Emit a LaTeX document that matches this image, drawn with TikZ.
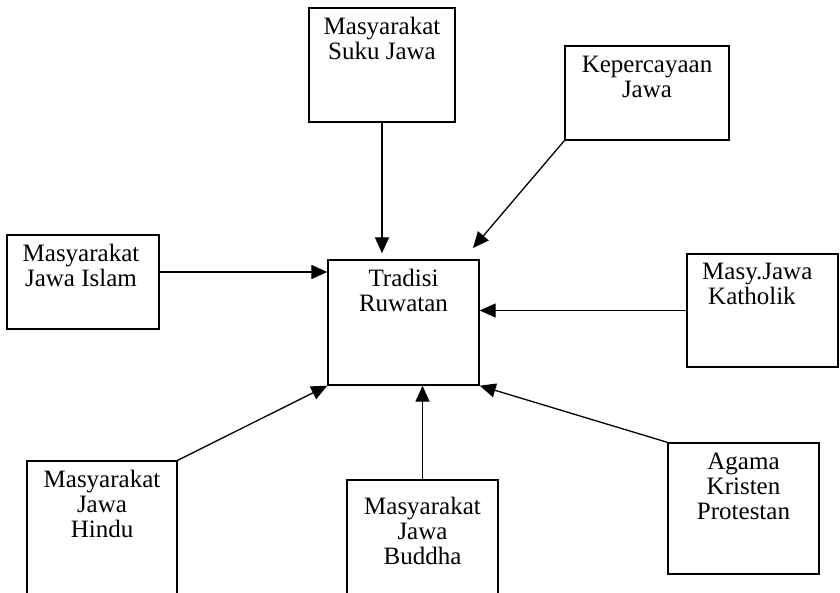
\documentclass[tikz,border=0pt]{standalone}
\usepackage{fontspec}
\setmainfont{Liberation Serif}
\usetikzlibrary{arrows.meta,fit,positioning}
\begin{document}
\begin{tikzpicture}[x=1pt,y=-1pt,
  box/.style={draw, line width=1.4pt, inner sep=0pt},
  txt/.style={inner sep=0pt, align=center, font=\fontsize{25}{25}\selectfont},
  arr/.style={line width=1.3pt, -{Triangle[length=16pt,width=14pt]}}]
\useasboundingbox (0,0) rectangle (840,593);
\clip (0,0) rectangle (840,593);
\node[box, fit={(309,8) (455,122)}] (suku) {};
\node[box, fit={(565,46) (729,140)}] (kep) {};
\node[box, fit={(7,235) (159,329)}] (islam) {};
\node[box, fit={(328,260) (479,385)}] (trad) {};
\node[box, fit={(687,254) (838,367)}] (kath) {};
\node[box, fit={(27,461) (177,620)}] (hindu) {};
\node[box, fit={(347,480) (498,620)}] (buddha) {};
\node[box, fit={(668,443) (819,574)}] (prot) {};

\node[txt, below=10pt] (sukut) at (suku.north) {Masyarakat\\Suku Jawa};
\node[txt, below=11pt] (kept) at (kep.north) {Kepercayaan\\Jawa};
\node[txt, below=10pt, xshift=-2pt] (islamt) at (islam.north) {Masyarakat\\Jawa Islam};
\node[txt, below=10pt] (tradt) at (trad.north) {Tradisi\\Ruwatan};
\node[txt, below=9pt, anchor=north west, align=left] (katht) at (702,254) {Masy.Jawa\\\hspace{6pt}Katholik};
\node[txt, below=10pt] (hindut) at (hindu.north) {Masyarakat\\Jawa\\Hindu};
\node[txt, below=18pt] (buddhat) at (buddha.north) {Masyarakat\\Jawa\\Buddha};
\node[txt, below=10pt] (prott) at (prot.north) {Agama\\Kristen\\Protestan};

\coordinate (kt) at (473,248);
\coordinate (islamout) at (159,272);
\draw[arr, shorten >=6pt] (suku.south) -- (suku.south |- trad.north);
\draw[arr] (kep.south west) -- (kt);
\draw[arr] (islamout) -- (islamout -| trad.west);
\draw[arr] (kath.west) -- (kath.west -| trad.east);
\draw[arr] (prot.north west) -- (trad.south east);
\draw[arr] (buddha.north) -- (buddha.north |- trad.south);
\draw[arr] (hindu.north east) -- (trad.south west);
\end{tikzpicture}
\end{document}
